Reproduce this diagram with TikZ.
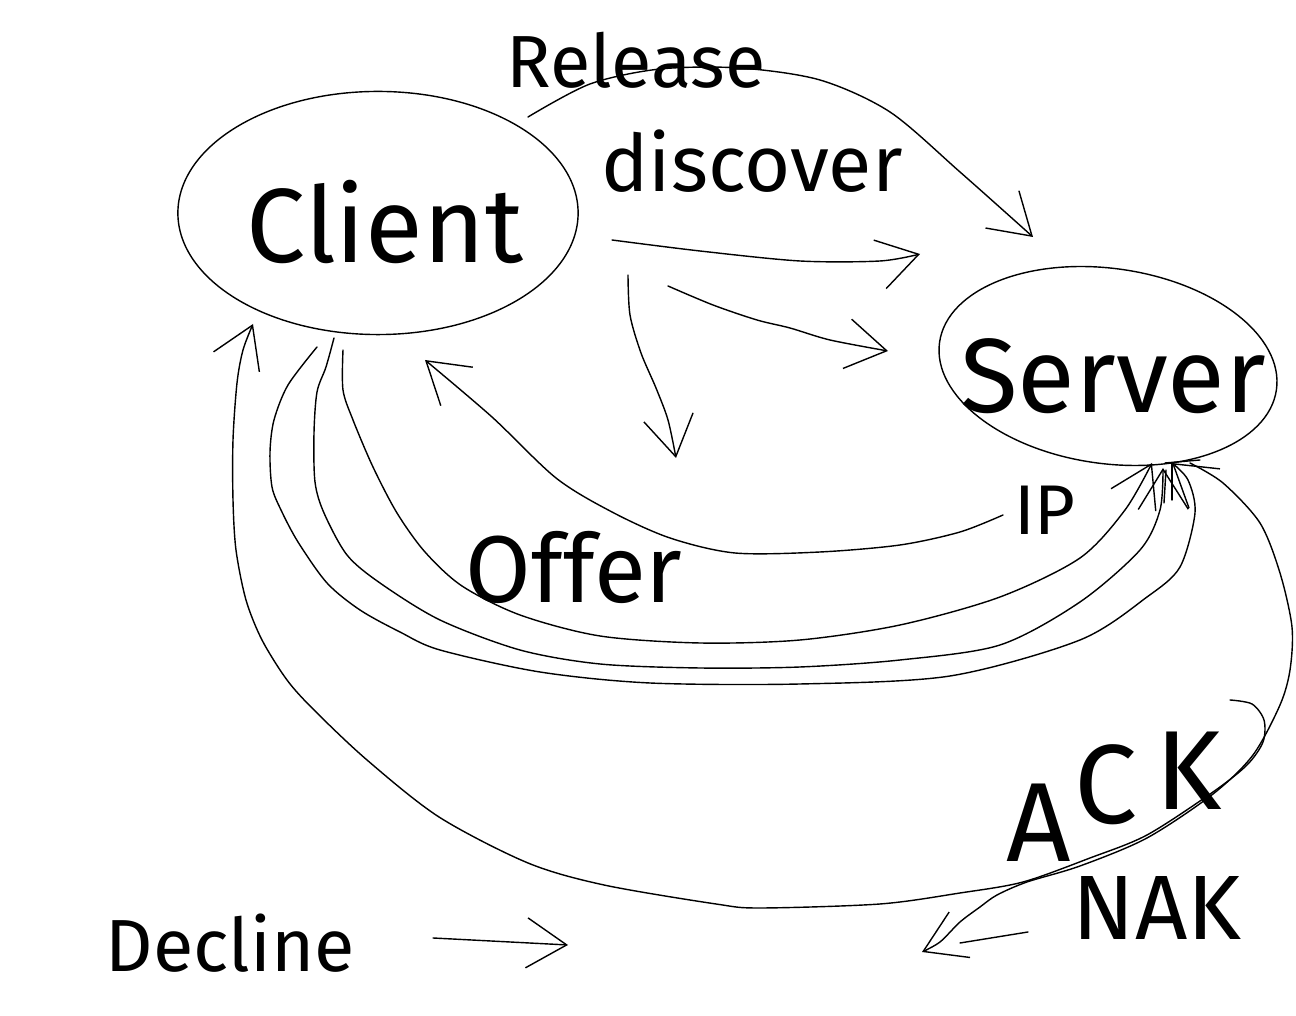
\documentclass[tikz,border=0pt]{standalone}
\usepackage{fontspec}
\IfFontExistsTF{FiraSans-Light.otf}{\setmainfont{FiraSans-Light.otf}}{\setmainfont{Fira Sans}}
\usetikzlibrary{arrows.meta,shapes.geometric}
\tikzset{
  pen/.style={line width=0.4pt, line cap=round, line join=round},
  flow/.style={pen, -{Straight Barb[length=4mm,width=5mm]}},
  hand/.style={font=\fontsize{#1pt}{#1pt}\selectfont, inner sep=0pt},
  bubble/.style={pen, draw, ellipse, inner sep=0pt},
}
\begin{document}
\begin{tikzpicture}[x=0.01cm, y=-0.01cm]
\fill[white] (0,0) rectangle (1296,1016);
\useasboundingbox (0,0) rectangle (1296,1016);

% the two parties
\node[bubble, minimum width=4cm, minimum height=2.43cm] (client) at (378,213) {};
\node[bubble, minimum width=3.4cm, minimum height=1.95cm, rotate=-8] (server) at (1108,366) {};
\node[hand=30, anchor=base] (clientname) at (385,263) {Client};
\node[hand=30, anchor=base] (servername) at (1113,413) {Server};

% message labels
\node[hand=21, anchor=base] (release) at (636,88) {Release};
\node[hand=22.5, anchor=base] (discover) at (752,192) {discover};
\node[hand=27, anchor=base] (offer) at (574,603) {Offer};
\node[hand=20, anchor=base] (ip) at (1045,535) {IP};
\node[hand=32, anchor=base west] (ack) at (1006,862) {A\hspace{1pt}\raisebox{11pt}{C}\hspace{5pt}\raisebox{15pt}{K}};
\node[hand=26, anchor=base] (nak) at (1157,940) {NAK};
\node[hand=21, anchor=base] (decline) at (230,972) {Decline};

% end points of the strokes
\coordinate (relS) at (528,117);   \coordinate (relE) at (1033,237);
\coordinate (discS) at (612,240);  \coordinate (discE) at (920,254);
\coordinate (diagS) at (668,286);  \coordinate (diagE) at (888,351);
\coordinate (downS) at (628,275);  \coordinate (downE) at (676,458);
\coordinate (offS) at (1003,515);  \coordinate (offE) at (425,360);
\coordinate (rqAs) at (343,350);   \coordinate (rqAe) at (1152,463);
\coordinate (rqBs) at (334,338);   \coordinate (rqBe) at (1163,468);
\coordinate (rqCs) at (317,347);   \coordinate (rqCe) at (1172,463);
\coordinate (ackS) at (1230,700);  \coordinate (ackE) at (253,324);
\coordinate (nakS) at (1190,463);  \coordinate (nakE) at (922,952);
\coordinate (decS) at (433,938);   \coordinate (decE) at (568,945);

% Release / discover
\draw[flow] plot[smooth] coordinates {(relS) (590,84) (660,69) (740,68) (820,80) (890,112) (960,172) (relE)};
\draw[flow] plot[smooth] coordinates {(discS) (700,251) (800,261) (880,261) (discE)};
\draw[flow] plot[smooth] coordinates {(diagS) (713,305) (757,320) (790,328) (830,340) (diagE)};
\draw[flow] plot[smooth] coordinates {(downS) (630,315) (641,353) (656,388) (668,420) (downE)};

% Offer back to the client
\draw[flow] plot[smooth] coordinates {(offS) (960,532) (900,545) (820,552) (735,553) (670,538) (612,512) (556,478) (492,417) (offE)};

% Request strokes
\draw[flow] plot[smooth] coordinates {(rqAs) (343,390) (353,420) (373,467) (397,513) (425,552) (462,586) (520,615) (600,636) (700,643) (800,640) (900,625) (1000,597) (1080,558) (1125,510) (rqAe)};
\draw[flow] plot[smooth] coordinates {(rqBs) (326,367) (317,392) (314,433) (315,482) (324,513) (347,555) (380,583) (440,620) (520,650) (600,664) (700,668) (800,667) (900,660) (1000,645) (1080,602) (1140,550) (1160,510) (rqBe)};
\draw[flow] plot[smooth] coordinates {(rqCs) (288,385) (274,420) (270,452) (272,487) (281,510) (298,542) (327,583) (360,610) (400,632) (440,650) (540,672) (650,683) (800,684) (950,676) (1080,640) (1147,597) (1180,567) (1195,513) (1188,480) (rqCe)};
\draw[pen] (1165,463) -- (1200,460);
\draw[pen] (1172,463) -- (1172,500);
\draw[pen] (1166,470) -- (1164,503);

% ACK back to the client, NAK away from the server
\draw[flow] plot[smooth] coordinates {(ackS) (1252,704) (1264,720) (1263,742) (1247,765) (1213,792) (1147,835) (1090,858) (1023,882) (960,893) (880,904) (760,908) (716,904) (604,885) (528,863) (439,817) (367,760) (314,710) (287,680) (262,640) (246,600) (236,550) (233,500) (233,440) (237,383) (243,350) (ackE)};
\draw[flow] plot[smooth] coordinates {(nakS) (1223,483) (1260,523) (1280,573) (1292,627) (1290,670) (1280,705) (1253,755) (1213,794) (1147,838) (1080,866) (1027,882) (997,895) (980,907) (960,922) (940,942) (nakE)};
\draw[pen] (960,943) -- (1028,932);

% Decline
\draw[flow] (decS) -- (decE);
\end{tikzpicture}
\end{document}
